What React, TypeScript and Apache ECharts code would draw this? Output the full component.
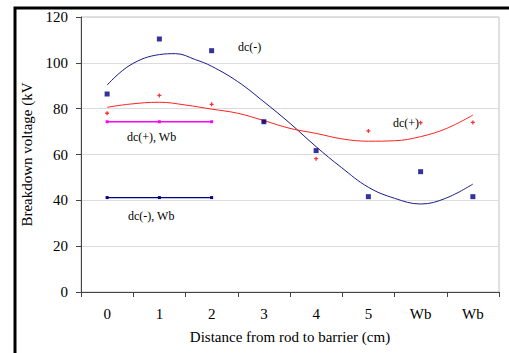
import React, { useEffect, useRef } from "react";
import * as echarts from "echarts";

const categories = ["0", "1", "2", "3", "4", "5", "Wb", "Wb"];
const dcNeg = [86.4, 110.4, 105.3, 74.3, 61.7, 41.6, 52.5, 41.6];
const dcPos = [78, 85.8, 81.9, 74.3, 58.2, 70.3, 73.9, 74];
const dcPosWb = [74.3, 74.3, 74.3, null, null, null, null, null];
const dcNegWb = [41.2, 41.2, 41.2, null, null, null, null, null];
// trend lines: [position, value]
const dcNegTrend: [number, number][] = [
  [0, 90.3], [0.44, 99], [1, 103.6], [1.31, 104], [1.69, 101.4], [2, 98.5],
  [2.5, 91.8], [3, 83], [3.5, 73.6], [4, 63.4], [4.48, 54.4], [5, 45.7],
  [5.5, 40.9], [6, 38.4], [6.48, 40.9], [7, 47.1],
];
const dcPosTrend: [number, number][] = [
  [0, 80.6], [0.44, 82], [1, 82.8], [1.5, 81.6], [2, 79.8], [2.5, 78],
  [3, 74.8], [3.5, 71.4], [4, 69.2], [4.5, 66.8], [5, 65.8], [5.5, 66],
  [6, 67.8], [6.5, 71.4], [7, 77.2],
];
const yTicks = { min: 0, max: 120, interval: 20 };

const FONT = "Liberation Serif";
const PLUS = "path://M1,0H2V1H3V2H2V3H1V2H0V1H1Z";

const note = (text: string, x: number, y: number) => ({
  type: "text",
  x,
  y,
  silent: true,
  style: { text, fontFamily: FONT, fontSize: 12, fill: "#000", verticalAlign: "middle" },
});

export default function App() {
  const ref = useRef<HTMLDivElement>(null);
  useEffect(() => {
    if (!ref.current) return;
    const chart = echarts.init(ref.current, null, { renderer: "svg" });
    chart.setOption({
      animation: false,
      backgroundColor: "#fff",
      textStyle: { fontFamily: FONT },
      grid: {
        left: 81, top: 17, right: 10, bottom: 61,
        show: true, borderColor: "#c0c0c0", borderWidth: 1,
      },
      xAxis: [
        {
          type: "category",
          data: categories,
          boundaryGap: true,
          name: "Distance from rod to barrier (cm)",
          nameLocation: "middle",
          nameGap: 37,
          nameTextStyle: { fontFamily: FONT, fontSize: 15, color: "#000" },
          axisLine: { lineStyle: { color: "#444", width: 1 } },
          axisTick: { show: true, inside: false, length: 5, alignWithLabel: false, lineStyle: { color: "#444" } },
          axisLabel: { fontFamily: FONT, fontSize: 15, color: "#000", margin: 14 },
          splitLine: { show: false },
        },
        {
          type: "value",
          min: -0.5,
          max: 7.5,
          show: false,
          axisLine: { onZero: false },
        },
      ],
      yAxis: {
        type: "value",
        min: yTicks.min,
        max: yTicks.max,
        interval: yTicks.interval,
        name: "Breakdown voltage (kV",
        nameLocation: "middle",
        nameGap: 29,
        nameTextStyle: { fontFamily: FONT, fontSize: 15, color: "#000" },
        axisLine: { show: true, onZero: false, lineStyle: { color: "#444", width: 1 } },
        axisTick: { show: true, inside: false, length: 5, lineStyle: { color: "#444" } },
        axisLabel: { fontFamily: FONT, fontSize: 15, color: "#000", margin: 13 },
        splitLine: { show: true, lineStyle: { color: "#dcdcdc", width: 1 } },
      },
      graphic: [
        {
          type: "rect",
          shape: { x: 15, y: 8, width: 600, height: 500 },
          style: { fill: "none", stroke: "#000", lineWidth: 3 },
          silent: true,
        },
        note("dc(-)", 238, 47),
        note("dc(+)", 393, 123),
        note("dc(+), Wb", 127, 137),
        note("dc(-), Wb", 128, 216),
      ],
      series: [
        {
          type: "line",
          xAxisIndex: 1,
          data: dcNegTrend,
          smooth: 0.4,
          showSymbol: false,
          lineStyle: { color: "#1a1a8c", width: 1 },
          z: 2,
        },
        {
          type: "line",
          xAxisIndex: 1,
          data: dcPosTrend,
          smooth: 0.4,
          showSymbol: false,
          lineStyle: { color: "#ff2020", width: 1 },
          z: 2,
        },
        {
          type: "line",
          xAxisIndex: 0,
          data: dcPosWb,
          symbol: "rect",
          symbolSize: 3,
          itemStyle: { color: "#ff00ff" },
          lineStyle: { color: "#ff00ff", width: 1.5 },
          z: 3,
        },
        {
          type: "line",
          xAxisIndex: 0,
          data: dcNegWb,
          symbol: "rect",
          symbolSize: 3,
          itemStyle: { color: "#000080" },
          lineStyle: { color: "#000080", width: 1.2 },
          z: 3,
        },
        {
          type: "scatter",
          xAxisIndex: 0,
          data: dcPos,
          symbol: PLUS,
          symbolSize: 4,
          itemStyle: { color: "#ff0000" },
          z: 4,
        },
        {
          type: "scatter",
          xAxisIndex: 0,
          data: dcNeg,
          symbol: "rect",
          symbolSize: 5,
          itemStyle: { color: "#000080" },
          z: 5,
        },
      ],
    });
    return () => chart.dispose();
  }, []);
  return (
    <div
      ref={ref}
      style={{ position: "fixed", left: 0, top: 0, width: 509, height: 353, background: "#fff" }}
    />
  );
}
